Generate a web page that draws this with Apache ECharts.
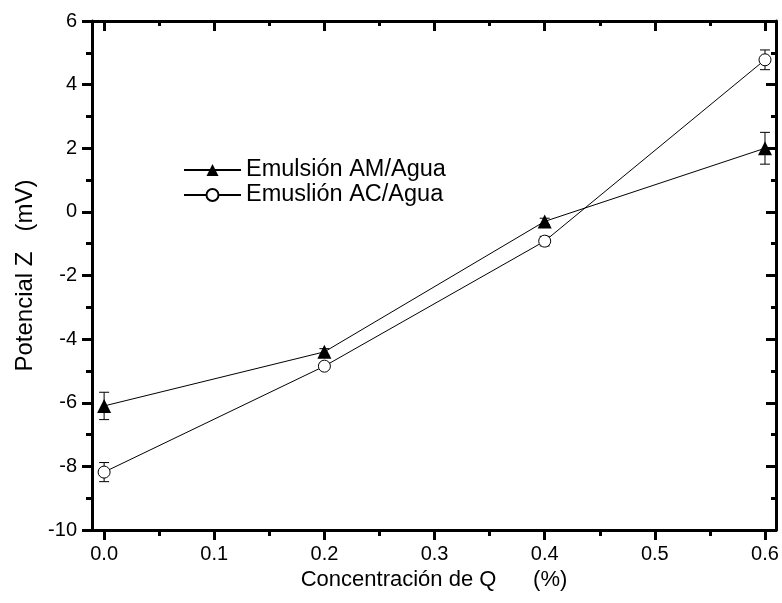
<!DOCTYPE html>
<html>
<head>
<meta charset="utf-8">
<script src="https://cdn.jsdelivr.net/npm/echarts@6/dist/echarts.min.js"></script>
<style>html,body{margin:0;padding:0;background:#fff;}#c{width:782px;height:603px;}</style>
</head>
<body>
<div id="c"></div>
<script>
var xValues = [0.0, 0.2, 0.4, 0.6];
var amValues = [-6.1, -4.4, -0.3, 2.0];
var amErrors = [0.43, 0.1, 0.1, 0.5];
var acValues = [-8.18, -4.85, -0.92, 4.78];
var acErrors = [0.3, 0.1, 0.15, 0.31];
var xMajorTicks = [0.0, 0.1, 0.2, 0.3, 0.4, 0.5, 0.6];
var xMinorTicks = [0.05, 0.15, 0.25, 0.35, 0.45, 0.55];
var seriesNames = ['Emulsión AM/Agua', 'Emuslión AC/Agua'];
var xTitle = 'Concentración de Q      (%)';
var yTitle = 'Potencial Z   (mV)';

var FONT = "'Liberation Sans', Arial, sans-serif";
var chart = echarts.init(document.getElementById('c'), null, {renderer: 'canvas'});

function pairs(vals) { return xValues.map(function (x, i) { return [x, vals[i]]; }); }
function errs(vals, e) { return xValues.map(function (x, i) { return [x, vals[i] - e[i], vals[i] + e[i]]; }); }

function errRender(params, api) {
  var x = api.value(0);
  var lo = api.coord([x, api.value(1)]);
  var hi = api.coord([x, api.value(2)]);
  var hw = 5;
  var st = {stroke: '#000', lineWidth: 1};
  return {
    type: 'group',
    children: [
      {type: 'line', shape: {x1: lo[0], y1: lo[1], x2: hi[0], y2: hi[1]}, style: st},
      {type: 'line', shape: {x1: lo[0] - hw, y1: lo[1], x2: lo[0] + hw, y2: lo[1]}, style: st},
      {type: 'line', shape: {x1: hi[0] - hw, y1: hi[1], x2: hi[0] + hw, y2: hi[1]}, style: st}
    ]
  };
}

var XMIN = -0.011, XMAX = 0.61;
var axisLineStyle = {color: '#000', width: 3};

function xAx(pos, ticks, len, inside, showLine, showLabel) {
  return {
    type: 'value', position: pos, min: XMIN, max: XMAX,
    axisLine: {show: showLine, onZero: false, lineStyle: axisLineStyle},
    axisTick: {show: true, inside: inside, length: len, customValues: ticks, lineStyle: {color: '#000', width: 3}},
    axisLabel: {show: showLabel, customValues: ticks, formatter: function (v) { return v.toFixed(1); },
      color: '#000', fontSize: 20, fontFamily: FONT, margin: 14},
    splitLine: {show: false}
  };
}

var xAxes = [
  xAx('bottom', xMajorTicks, 10, false, true, true),
  xAx('bottom', xMinorTicks, 6, false, false, false),
  xAx('top', xMajorTicks, 10, true, true, false),
  xAx('top', xMinorTicks, 5, true, false, false)
];
xAxes[0].name = xTitle;
xAxes[0].nameLocation = 'middle';
xAxes[0].nameGap = 39;
xAxes[0].nameTextStyle = {fontSize: 22, color: '#000', fontFamily: FONT};

var yAxes = [
  {
    type: 'value', position: 'left', min: -10, max: 6, interval: 2,
    axisLine: {show: true, onZero: false, lineStyle: axisLineStyle},
    axisTick: {show: true, inside: false, length: 10, lineStyle: {color: '#000', width: 3}},
    minorTick: {show: true, splitNumber: 2, length: 6, lineStyle: {color: '#000', width: 3}},
    axisLabel: {color: '#000', fontSize: 20, fontFamily: FONT, margin: 15},
    splitLine: {show: false},
    name: yTitle, nameLocation: 'middle', nameGap: 54, nameRotate: 90,
    nameTextStyle: {fontSize: 24, color: '#000', fontFamily: FONT}
  },
  {
    type: 'value', position: 'right', min: -10, max: 6, interval: 2,
    axisLine: {show: true, onZero: false, lineStyle: axisLineStyle},
    axisTick: {show: true, inside: true, length: 10, lineStyle: {color: '#000', width: 3}},
    minorTick: {show: true, splitNumber: 2, length: 5, lineStyle: {color: '#000', width: 3}},
    axisLabel: {show: false},
    splitLine: {show: false}
  }
];

chart.setOption({
  animation: false,
  backgroundColor: '#fff',
  grid: {left: 92, right: 6, top: 21, bottom: 73, containLabel: false},
  xAxis: xAxes,
  yAxis: yAxes,
  legend: {
    orient: 'vertical', left: 178, top: 153, itemWidth: 57, itemHeight: 15, itemGap: 1,
    textStyle: {fontSize: 23.5, color: '#000', fontFamily: FONT},
    data: seriesNames
  },
  series: [
    {type: 'custom', name: 'errAM', xAxisIndex: 0, yAxisIndex: 0, z: 1, renderItem: errRender,
      encode: {x: 0, y: [1, 2]}, data: errs(amValues, amErrors), silent: true},
    {type: 'custom', name: 'errAC', xAxisIndex: 0, yAxisIndex: 0, z: 1, renderItem: errRender,
      encode: {x: 0, y: [1, 2]}, data: errs(acValues, acErrors), silent: true},
    {type: 'line', name: seriesNames[0], xAxisIndex: 0, yAxisIndex: 0, z: 3,
      data: pairs(amValues), symbol: 'triangle', symbolSize: 14, showSymbol: true,
      lineStyle: {color: '#000', width: 1}, itemStyle: {color: '#000', borderWidth: 0}},
    {type: 'line', name: seriesNames[1], xAxisIndex: 0, yAxisIndex: 0, z: 3,
      data: pairs(acValues), symbol: 'circle', symbolSize: 12, showSymbol: true,
      lineStyle: {color: '#000', width: 1}, itemStyle: {color: '#fff', borderColor: '#000', borderWidth: 1}}
  ]
});
</script>
</body>
</html>
